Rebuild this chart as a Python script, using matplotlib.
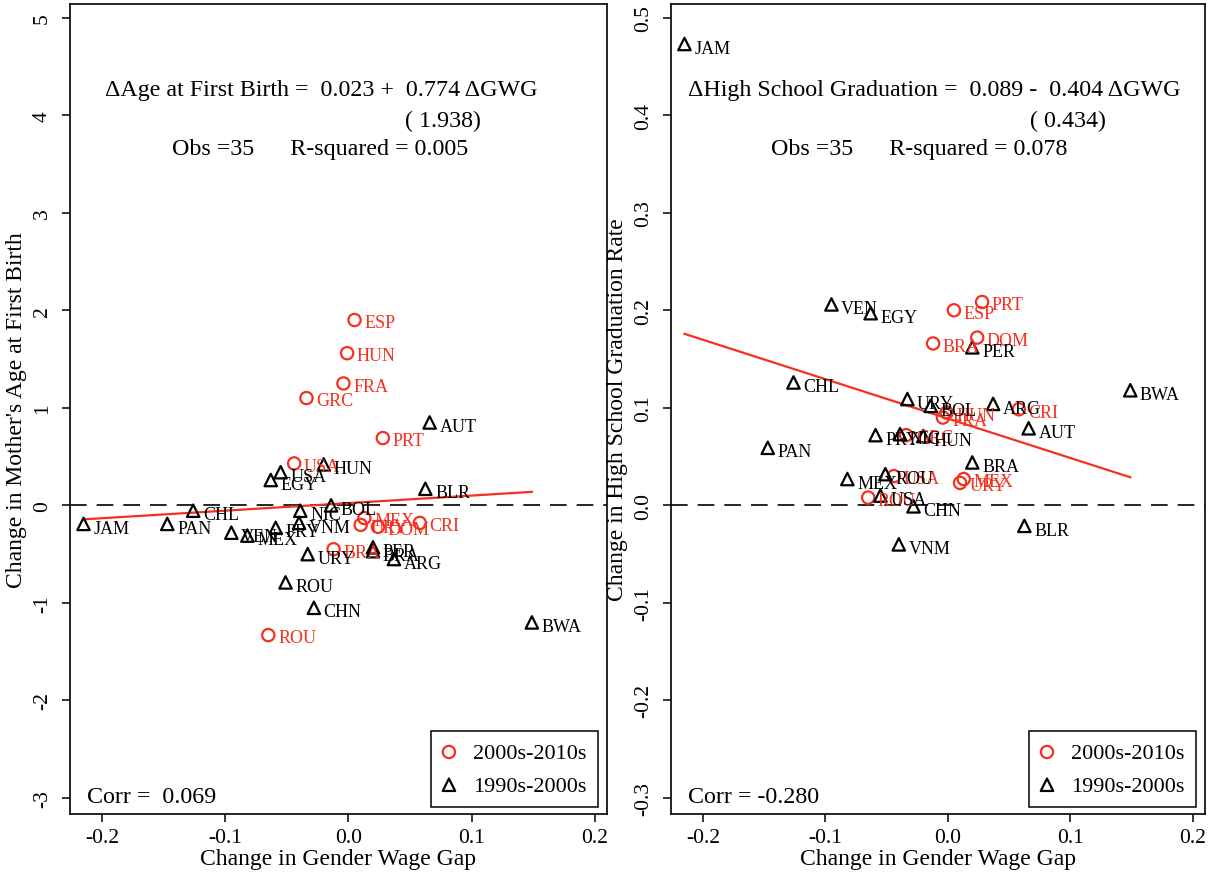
import matplotlib.pyplot as plt
from matplotlib.ticker import FormatStrFormatter

plt.rcParams['font.family'] = ['Liberation Serif', 'DejaVu Serif']
plt.rcParams['axes.unicode_minus'] = False

RED = '#F5301F'

# 1990s-2000s country changes (triangles)
countries_90 = ["JAM", "PAN", "CHL", "VEN", "MEX", "PRY", "NIC", "VNM", "ROU", "USA", "EGY",
                "URY", "CHN", "BOL", "HUN", "PER", "BRA", "ARG", "BLR", "AUT", "BWA"]
gwg_90 = [-0.215, -0.147, -0.126, -0.095, -0.082, -0.059, -0.039, -0.040, -0.051, -0.055, -0.063,
          -0.033, -0.028, -0.014, -0.020, 0.020, 0.020, 0.037, 0.0625, 0.066, 0.149]
age_90 = [-0.19, -0.19, -0.055, -0.28, -0.31, -0.23, -0.055, -0.18, -0.79, 0.34, 0.26,
          -0.50, -1.05, 0.0, 0.42, -0.43, -0.47, -0.55, 0.17, 0.85, -1.20]
hs_90 = [0.473, 0.059, 0.126, 0.206, 0.027, 0.072, 0.073, -0.040, 0.032, 0.010, 0.197,
         0.109, -0.001, 0.102, 0.071, 0.162, 0.044, 0.104, -0.021, 0.079, 0.118]

# 2000s-2010s country changes (circles)
countries_00 = ["ROU", "USA", "GRC", "BRA", "FRA", "HUN", "ESP", "URY", "MEX", "DOM", "PRT", "CRI"]
gwg_00 = [-0.065, -0.044, -0.034, -0.012, -0.004, -0.001, 0.005, 0.010, 0.013, 0.024, 0.028, 0.058]
age_00 = [-1.33, 0.43, 1.10, -0.45, 1.25, 1.56, 1.90, -0.20, -0.13, -0.22, 0.69, -0.18]
hs_00 = [0.008, 0.030, 0.072, 0.166, 0.090, 0.095, 0.200, 0.023, 0.027, 0.172, 0.2085, 0.0985]

# regression results shown on each panel
n_obs = 35
age_fit = dict(b0=0.023, b1=0.774, se=1.938, r2=0.005, corr=0.069)
hs_fit = dict(b0=0.089, b1=-0.404, se=0.434, r2=0.078, corr=-0.280)

xticks = [-0.2, -0.1, 0.0, 0.1, 0.2]
age_ticks = [-3, -2, -1, 0, 1, 2, 3, 4, 5]
hs_ticks = [-0.3, -0.2, -0.1, 0.0, 0.1, 0.2, 0.3, 0.4, 0.5]


def panel(ax, y90, y00, fit, dep, ylabel, yticks, ylim, yfmt, eq_x, se_x, obs_x):
    ax.axhline(0, color='black', lw=1.2, dashes=(10, 6), zorder=1)

    xs = [min(gwg_90 + gwg_00), max(gwg_90 + gwg_00)]
    ax.plot(xs, [fit['b0'] + fit['b1'] * x for x in xs], color=RED, lw=1.6, zorder=2)

    ax.scatter(gwg_00, y00, marker='o', facecolors='none', edgecolors=RED,
               s=78, linewidths=1.6, zorder=3, label='2000s-2010s')
    ax.scatter(gwg_90, y90, marker='^', facecolors='none', edgecolors='black',
               s=80, linewidths=1.6, zorder=3, label='1990s-2000s')
    for name, x, y in zip(countries_00, gwg_00, y00):
        ax.annotate(name, (x, y), xytext=(7, -2), textcoords='offset points',
                    fontsize=13, color=RED, va='center', ha='left')
    for name, x, y in zip(countries_90, gwg_90, y90):
        ax.annotate(name, (x, y), xytext=(7, -3), textcoords='offset points',
                    fontsize=13, color='black', va='center', ha='left')

    sign = '+' if fit['b1'] >= 0 else '-'
    ax.text(eq_x, 0.8945, f"\u0394{dep} =  {fit['b0']:.3f} {sign}  {abs(fit['b1']):.3f} \u0394GWG",
            transform=ax.transAxes, fontsize=17.3, va='center', ha='left')
    ax.text(se_x, 0.856, f"( {fit['se']:.3f})", transform=ax.transAxes, fontsize=17.3,
            va='center', ha='left')
    ax.text(obs_x, 0.8205, f"Obs ={n_obs}      R-squared = {fit['r2']:.3f}",
            transform=ax.transAxes, fontsize=17.3, va='center', ha='left')
    ax.text(0.032, 0.022, f"Corr = {fit['corr']:6.3f}", transform=ax.transAxes,
            fontsize=17.3, va='center', ha='left')

    leg = ax.legend(loc='lower right', bbox_to_anchor=(0.983, 0.009), borderaxespad=0,
                    fontsize=16, frameon=True, fancybox=False, edgecolor='black',
                    framealpha=1, scatterpoints=1, handlelength=0.6, handletextpad=0.8,
                    labelspacing=0.55, borderpad=0.5)
    leg.get_frame().set_linewidth(1.1)

    ax.set_xlim(-0.226, 0.210)
    ax.set_ylim(*ylim)
    ax.set_xticks(xticks)
    ax.set_yticks(yticks)
    ax.xaxis.set_major_formatter(FormatStrFormatter('%.1f'))
    ax.yaxis.set_major_formatter(FormatStrFormatter(yfmt))
    ax.tick_params(direction='out', length=6, width=1.1, labelsize=15.5)
    ax.tick_params(axis='x', pad=4)
    ax.tick_params(axis='y', pad=7)
    for lbl in ax.get_yticklabels():
        lbl.set_rotation(90)
        lbl.set_va('center')
    for sp in ax.spines.values():
        sp.set_linewidth(1.2)
    ax.set_xlabel('Change in Gender Wage Gap', fontsize=17, labelpad=1)
    ax.set_ylabel(ylabel, fontsize=17, labelpad=4)


fig = plt.figure(figsize=(12.14, 8.78), dpi=100)
ax1 = fig.add_axes([70 / 1214, 1 - 815 / 878, 537 / 1214, 810.5 / 878])
ax2 = fig.add_axes([671 / 1214, 1 - 815 / 878, 534 / 1214, 810.5 / 878])

panel(ax1, age_90, age_00, age_fit, 'Age at First Birth', "Change in Mother's Age at First Birth",
      age_ticks, (-3.164, 5.145), '%d', 0.065, 0.624, 0.19)
panel(ax2, hs_90, hs_00, hs_fit, 'High School Graduation', 'Change in High School Graduation Rate',
      hs_ticks, (-0.3164, 0.5145), '%.1f', 0.032, 0.672, 0.187)

fig.savefig('out.png', dpi=100)
